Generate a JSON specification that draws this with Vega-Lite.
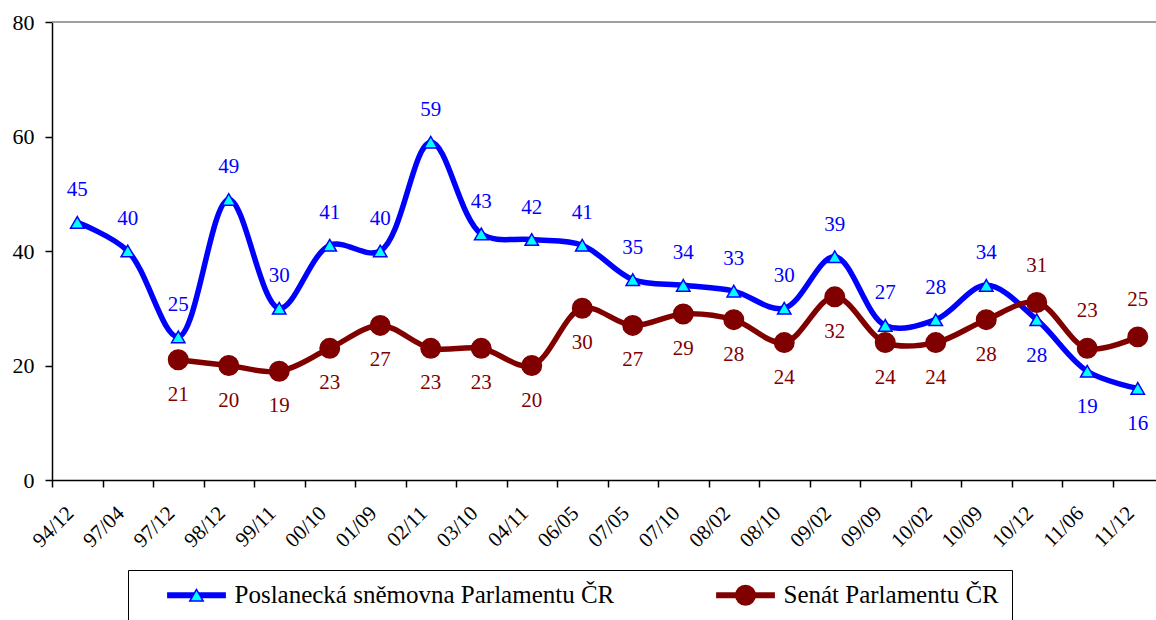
{
  "$schema": "https://vega.github.io/schema/vega-lite/v6.json",
  "width": 1104,
  "height": 458,
  "autosize": {"type": "none"},
  "padding": {"left": 52, "top": 22, "right": 0, "bottom": 140},
  "background": "white",
  "config": {"font": "Liberation Serif", "view": {"stroke": null}},
  "data": {"values": [
    {"date": "94/12", "series": "Poslanecká sněmovna Parlamentu ČR", "value": 45},
    {"date": "97/04", "series": "Poslanecká sněmovna Parlamentu ČR", "value": 40},
    {"date": "97/12", "series": "Poslanecká sněmovna Parlamentu ČR", "value": 25},
    {"date": "98/12", "series": "Poslanecká sněmovna Parlamentu ČR", "value": 49},
    {"date": "99/11", "series": "Poslanecká sněmovna Parlamentu ČR", "value": 30},
    {"date": "00/10", "series": "Poslanecká sněmovna Parlamentu ČR", "value": 41},
    {"date": "01/09", "series": "Poslanecká sněmovna Parlamentu ČR", "value": 40},
    {"date": "02/11", "series": "Poslanecká sněmovna Parlamentu ČR", "value": 59},
    {"date": "03/10", "series": "Poslanecká sněmovna Parlamentu ČR", "value": 43},
    {"date": "04/11", "series": "Poslanecká sněmovna Parlamentu ČR", "value": 42},
    {"date": "06/05", "series": "Poslanecká sněmovna Parlamentu ČR", "value": 41},
    {"date": "07/05", "series": "Poslanecká sněmovna Parlamentu ČR", "value": 35},
    {"date": "07/10", "series": "Poslanecká sněmovna Parlamentu ČR", "value": 34},
    {"date": "08/02", "series": "Poslanecká sněmovna Parlamentu ČR", "value": 33},
    {"date": "08/10", "series": "Poslanecká sněmovna Parlamentu ČR", "value": 30},
    {"date": "09/02", "series": "Poslanecká sněmovna Parlamentu ČR", "value": 39},
    {"date": "09/09", "series": "Poslanecká sněmovna Parlamentu ČR", "value": 27},
    {"date": "10/02", "series": "Poslanecká sněmovna Parlamentu ČR", "value": 28},
    {"date": "10/09", "series": "Poslanecká sněmovna Parlamentu ČR", "value": 34},
    {"date": "10/12", "series": "Poslanecká sněmovna Parlamentu ČR", "value": 28},
    {"date": "11/06", "series": "Poslanecká sněmovna Parlamentu ČR", "value": 19},
    {"date": "11/12", "series": "Poslanecká sněmovna Parlamentu ČR", "value": 16},
    {"date": "97/12", "series": "Senát Parlamentu ČR", "value": 21},
    {"date": "98/12", "series": "Senát Parlamentu ČR", "value": 20},
    {"date": "99/11", "series": "Senát Parlamentu ČR", "value": 19},
    {"date": "00/10", "series": "Senát Parlamentu ČR", "value": 23},
    {"date": "01/09", "series": "Senát Parlamentu ČR", "value": 27},
    {"date": "02/11", "series": "Senát Parlamentu ČR", "value": 23},
    {"date": "03/10", "series": "Senát Parlamentu ČR", "value": 23},
    {"date": "04/11", "series": "Senát Parlamentu ČR", "value": 20},
    {"date": "06/05", "series": "Senát Parlamentu ČR", "value": 30},
    {"date": "07/05", "series": "Senát Parlamentu ČR", "value": 27},
    {"date": "07/10", "series": "Senát Parlamentu ČR", "value": 29},
    {"date": "08/02", "series": "Senát Parlamentu ČR", "value": 28},
    {"date": "08/10", "series": "Senát Parlamentu ČR", "value": 24},
    {"date": "09/02", "series": "Senát Parlamentu ČR", "value": 32},
    {"date": "09/09", "series": "Senát Parlamentu ČR", "value": 24},
    {"date": "10/02", "series": "Senát Parlamentu ČR", "value": 24},
    {"date": "10/09", "series": "Senát Parlamentu ČR", "value": 28},
    {"date": "10/12", "series": "Senát Parlamentu ČR", "value": 31},
    {"date": "11/06", "series": "Senát Parlamentu ČR", "value": 23},
    {"date": "11/12", "series": "Senát Parlamentu ČR", "value": 25}
  ]},
  "encoding": {
    "x": {
      "field": "date", "type": "ordinal", "sort": null, "bandPosition": 0.5,
      "scale": {"type": "band", "range": [0, 1111], "paddingInner": 0, "paddingOuter": 0},
      "axis": {
        "title": null, "tickBand": "extent", "labelAngle": -45, "labelAlign": "right", "labelBaseline": "bottom",
        "labelFontSize": 21, "labelColor": "black", "labelPadding": 30, "tickSize": 7, "tickColor": "black",
        "tickWidth": 1.5, "domainColor": "black", "domainWidth": 1.5, "grid": false, "labelOverlap": false
      }
    },
    "y": {
      "field": "value", "type": "quantitative",
      "scale": {"domain": [0, 80], "nice": false},
      "axis": {
        "title": null, "values": [0, 20, 40, 60, 80], "grid": false, "labelFontSize": 22, "labelColor": "black",
        "labelPadding": 11, "tickSize": 7, "tickColor": "black", "tickWidth": 1.5, "domainColor": "black", "domainWidth": 1.5
      }
    }
  },
  "layer": [
    {
      "data": {"values": [{"v": 80}]},
      "mark": {"type": "rule", "color": "#808080", "strokeWidth": 1.5},
      "encoding": {"x": null, "y": {"field": "v", "type": "quantitative"}}
    },
    {
      "mark": {"type": "line", "interpolate": "catmull-rom", "strokeWidth": 5.5, "strokeJoin": "round"},
      "encoding": {
        "color": {
          "field": "series", "type": "nominal",
          "scale": {"domain": ["Poslanecká sněmovna Parlamentu ČR", "Senát Parlamentu ČR"], "range": ["#0000FF", "#800000"]},
          "legend": {
            "orient": "none", "legendX": 76, "legendY": 548, "direction": "horizontal", "columns": 2, "title": null,
            "symbolType": "M-4.2,0H4.2", "symbolStrokeWidth": 6, "symbolSize": 196,
            "symbolOffset": 43.5, "labelOffset": 25.5,
            "labelFontSize": 25, "labelColor": "black", "labelLimit": 0, "columnPadding": 75,
            "padding": 12.5, "strokeColor": "black", "fillColor": "white", "zindex": 0
          }
        }
      }
    },
    {
      "mark": {"type": "point", "strokeWidth": 1.5, "opacity": 1, "fillOpacity": 1},
      "encoding": {
        "shape": {"field": "series", "type": "nominal", "scale": {"range": ["triangle-up", "circle"]},
          "legend": {
            "orient": "none", "legendX": 76, "legendY": 548, "direction": "horizontal", "columns": 2, "title": null,
            "symbolOffset": 43.5, "labelOffset": 25.5, "labelOpacity": 0, "symbolStrokeWidth": 1.5,
            "labelFontSize": 25, "labelLimit": 0, "columnPadding": 75, "padding": 12.5, "zindex": 1
          }
        },
        "fill": {"field": "series", "type": "nominal", "scale": {"range": ["#00FFFF", "#800000"]}},
        "stroke": {"field": "series", "type": "nominal", "scale": {"range": ["#0000FF", "#800000"]}},
        "size": {"field": "series", "type": "nominal", "scale": {"range": [180, 380]}}
      }
    },
    {
      "transform": [{"filter": "datum.series == 'Poslanecká sněmovna Parlamentu ČR' && indexof(['10/12','11/06','11/12'], datum.date) < 0"}],
      "mark": {"type": "text", "dy": -32, "fontSize": 21, "color": "#0000FF"},
      "encoding": {"text": {"field": "value", "type": "quantitative"}}
    },
    {
      "transform": [{"filter": "datum.series == 'Poslanecká sněmovna Parlamentu ČR' && indexof(['10/12','11/06','11/12'], datum.date) >= 0"}],
      "mark": {"type": "text", "dy": 36, "fontSize": 21, "color": "#0000FF"},
      "encoding": {"text": {"field": "value", "type": "quantitative"}}
    },
    {
      "transform": [{"filter": "datum.series == 'Senát Parlamentu ČR' && indexof(['10/12','11/06','11/12'], datum.date) < 0"}],
      "mark": {"type": "text", "dy": 35, "fontSize": 21, "color": "#800000"},
      "encoding": {"text": {"field": "value", "type": "quantitative"}}
    },
    {
      "transform": [{"filter": "datum.series == 'Senát Parlamentu ČR' && indexof(['10/12','11/06','11/12'], datum.date) >= 0"}],
      "mark": {"type": "text", "dy": -37, "fontSize": 21, "color": "#800000"},
      "encoding": {"text": {"field": "value", "type": "quantitative"}}
    }
  ]
}
